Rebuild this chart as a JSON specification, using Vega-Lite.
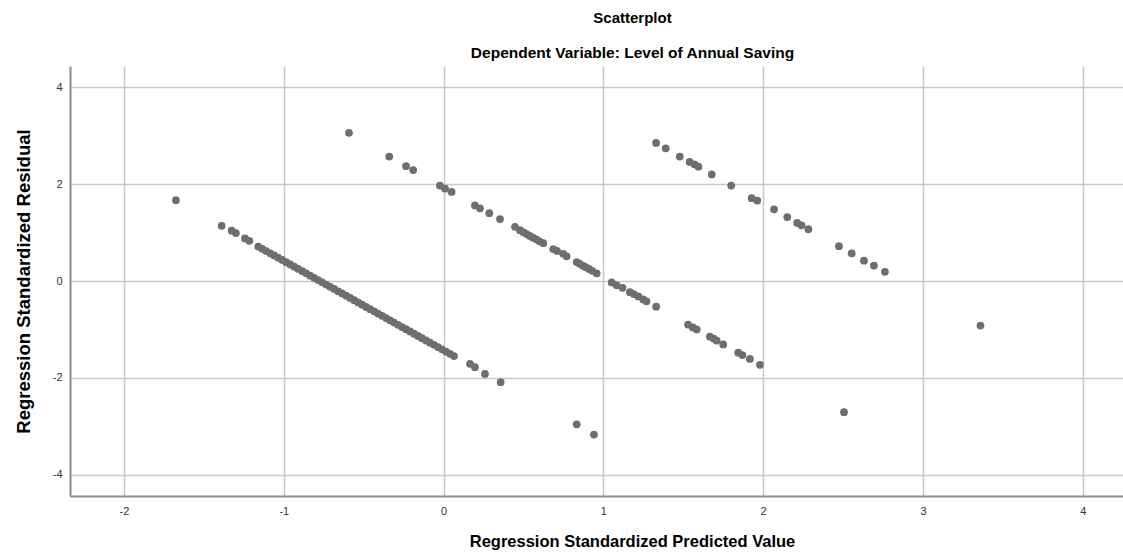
{
  "$schema": "https://vega.github.io/schema/vega-lite/v6.json",
  "width": 1053,
  "height": 430,
  "autosize": {"type": "none"},
  "padding": {"left": 70, "top": 66, "right": 0, "bottom": 58},
  "background": "white",
  "config": {
    "view": {"stroke": null},
    "font": "Liberation Sans",
    "axis": {
      "labelFont": "Liberation Sans",
      "titleFont": "Liberation Sans",
      "labelFontSize": 11,
      "labelColor": "#333333",
      "titleFontWeight": "bold",
      "titleColor": "#000000",
      "gridColor": "#c8c8c8",
      "gridWidth": 1.5,
      "gridOpacity": 1,
      "domainColor": "#8c8c8c",
      "domainWidth": 2,
      "ticks": false,
      "labelExpr": "replace(datum.label, '\u2212', '-')"
    }
  },
  "title": {
    "text": "Scatterplot",
    "subtitle": "Dependent Variable: Level of Annual Saving",
    "font": "Liberation Sans",
    "fontSize": 15,
    "fontWeight": "bold",
    "color": "#000000",
    "subtitleFont": "Liberation Sans",
    "subtitleFontSize": 15.5,
    "subtitleFontWeight": "bold",
    "subtitleColor": "#000000",
    "subtitlePadding": 20,
    "offset": 5,
    "dx": 36,
    "anchor": "middle"
  },
  "data": {
    "values": [
      {"pred": -1.675, "resid": 1.67},
      {"pred": -1.389, "resid": 1.14},
      {"pred": -1.326, "resid": 1.04},
      {"pred": -1.30, "resid": 0.99},
      {"pred": -1.243, "resid": 0.88},
      {"pred": -1.216, "resid": 0.83},
      {"pred": -1.160, "resid": 0.711},
      {"pred": -1.135, "resid": 0.665},
      {"pred": -1.110, "resid": 0.619},
      {"pred": -1.085, "resid": 0.573},
      {"pred": -1.060, "resid": 0.527},
      {"pred": -1.035, "resid": 0.481},
      {"pred": -1.010, "resid": 0.434},
      {"pred": -0.985, "resid": 0.388},
      {"pred": -0.960, "resid": 0.342},
      {"pred": -0.935, "resid": 0.296},
      {"pred": -0.910, "resid": 0.250},
      {"pred": -0.885, "resid": 0.204},
      {"pred": -0.860, "resid": 0.158},
      {"pred": -0.835, "resid": 0.111},
      {"pred": -0.810, "resid": 0.065},
      {"pred": -0.785, "resid": 0.019},
      {"pred": -0.760, "resid": -0.027},
      {"pred": -0.735, "resid": -0.073},
      {"pred": -0.710, "resid": -0.119},
      {"pred": -0.685, "resid": -0.165},
      {"pred": -0.660, "resid": -0.212},
      {"pred": -0.635, "resid": -0.258},
      {"pred": -0.610, "resid": -0.304},
      {"pred": -0.585, "resid": -0.350},
      {"pred": -0.560, "resid": -0.396},
      {"pred": -0.535, "resid": -0.442},
      {"pred": -0.510, "resid": -0.489},
      {"pred": -0.485, "resid": -0.535},
      {"pred": -0.460, "resid": -0.581},
      {"pred": -0.435, "resid": -0.627},
      {"pred": -0.410, "resid": -0.673},
      {"pred": -0.385, "resid": -0.719},
      {"pred": -0.360, "resid": -0.765},
      {"pred": -0.335, "resid": -0.812},
      {"pred": -0.310, "resid": -0.858},
      {"pred": -0.285, "resid": -0.904},
      {"pred": -0.260, "resid": -0.950},
      {"pred": -0.235, "resid": -0.996},
      {"pred": -0.210, "resid": -1.042},
      {"pred": -0.185, "resid": -1.088},
      {"pred": -0.160, "resid": -1.135},
      {"pred": -0.135, "resid": -1.181},
      {"pred": -0.110, "resid": -1.227},
      {"pred": -0.085, "resid": -1.273},
      {"pred": -0.060, "resid": -1.319},
      {"pred": -0.035, "resid": -1.365},
      {"pred": -0.010, "resid": -1.412},
      {"pred": 0.015, "resid": -1.458},
      {"pred": 0.040, "resid": -1.504},
      {"pred": 0.065, "resid": -1.550},
      {"pred": 0.165, "resid": -1.71},
      {"pred": 0.196, "resid": -1.78},
      {"pred": 0.259, "resid": -1.92},
      {"pred": 0.357, "resid": -2.09},
      {"pred": -0.592, "resid": 3.06},
      {"pred": -0.34, "resid": 2.57},
      {"pred": -0.235, "resid": 2.37},
      {"pred": -0.19, "resid": 2.29},
      {"pred": -0.023, "resid": 1.97},
      {"pred": 0.009, "resid": 1.91},
      {"pred": 0.05, "resid": 1.84},
      {"pred": 0.196, "resid": 1.56},
      {"pred": 0.228, "resid": 1.50},
      {"pred": 0.286, "resid": 1.40},
      {"pred": 0.353, "resid": 1.28},
      {"pred": 0.447, "resid": 1.12},
      {"pred": 0.478, "resid": 1.05},
      {"pred": 0.50, "resid": 1.005},
      {"pred": 0.52, "resid": 0.97},
      {"pred": 0.54, "resid": 0.93},
      {"pred": 0.56, "resid": 0.895},
      {"pred": 0.58, "resid": 0.86},
      {"pred": 0.60, "resid": 0.82},
      {"pred": 0.624, "resid": 0.78},
      {"pred": 0.686, "resid": 0.66},
      {"pred": 0.71, "resid": 0.62},
      {"pred": 0.749, "resid": 0.56},
      {"pred": 0.77, "resid": 0.51},
      {"pred": 0.833, "resid": 0.39},
      {"pred": 0.85, "resid": 0.36},
      {"pred": 0.87, "resid": 0.32},
      {"pred": 0.89, "resid": 0.285},
      {"pred": 0.91, "resid": 0.25},
      {"pred": 0.93, "resid": 0.21},
      {"pred": 0.958, "resid": 0.16},
      {"pred": 1.052, "resid": -0.03},
      {"pred": 1.083, "resid": -0.09},
      {"pred": 1.12, "resid": -0.14},
      {"pred": 1.166, "resid": -0.23},
      {"pred": 1.19, "resid": -0.27},
      {"pred": 1.219, "resid": -0.32},
      {"pred": 1.25, "resid": -0.38},
      {"pred": 1.27, "resid": -0.42},
      {"pred": 1.33, "resid": -0.53},
      {"pred": 1.53, "resid": -0.90},
      {"pred": 1.56, "resid": -0.96},
      {"pred": 1.584, "resid": -1.00},
      {"pred": 1.667, "resid": -1.15},
      {"pred": 1.69, "resid": -1.19},
      {"pred": 1.709, "resid": -1.23},
      {"pred": 1.75, "resid": -1.31},
      {"pred": 1.844, "resid": -1.48},
      {"pred": 1.87, "resid": -1.53},
      {"pred": 1.917, "resid": -1.61},
      {"pred": 1.98, "resid": -1.73},
      {"pred": 1.33, "resid": 2.85},
      {"pred": 1.39, "resid": 2.74},
      {"pred": 1.478, "resid": 2.57},
      {"pred": 1.54, "resid": 2.46},
      {"pred": 1.57, "resid": 2.41},
      {"pred": 1.595, "resid": 2.36},
      {"pred": 1.678, "resid": 2.20},
      {"pred": 1.80, "resid": 1.97},
      {"pred": 1.928, "resid": 1.71},
      {"pred": 1.963, "resid": 1.66},
      {"pred": 2.068, "resid": 1.48},
      {"pred": 2.151, "resid": 1.32},
      {"pred": 2.213, "resid": 1.20},
      {"pred": 2.24, "resid": 1.15},
      {"pred": 2.283, "resid": 1.07},
      {"pred": 2.474, "resid": 0.72},
      {"pred": 2.554, "resid": 0.57},
      {"pred": 2.631, "resid": 0.42},
      {"pred": 2.693, "resid": 0.32},
      {"pred": 2.762, "resid": 0.19},
      {"pred": 0.833, "resid": -2.96},
      {"pred": 0.941, "resid": -3.17},
      {"pred": 2.506, "resid": -2.71},
      {"pred": 3.36, "resid": -0.92}
    ]
  },
  "mark": {"type": "circle", "size": 60, "color": "#6e6e6e", "opacity": 1, "clip": true},
  "encoding": {
    "x": {
      "field": "pred",
      "type": "quantitative",
      "scale": {"domain": [-2.338, 4.252], "nice": false, "zero": false},
      "axis": {"values": [-2, -1, 0, 1, 2, 3, 4], "title": "Regression Standardized Predicted Value", "titleFontSize": 16.5, "titleX": 562, "labelPadding": 9, "titlePadding": 17, "grid": true}
    },
    "y": {
      "field": "resid",
      "type": "quantitative",
      "scale": {"domain": [-4.44, 4.44], "nice": false, "zero": false},
      "axis": {"values": [-4, -2, 0, 2, 4], "title": "Regression Standardized Residual", "titleFontSize": 18.5, "labelPadding": 8, "titlePadding": 19, "grid": true}
    }
  }
}
